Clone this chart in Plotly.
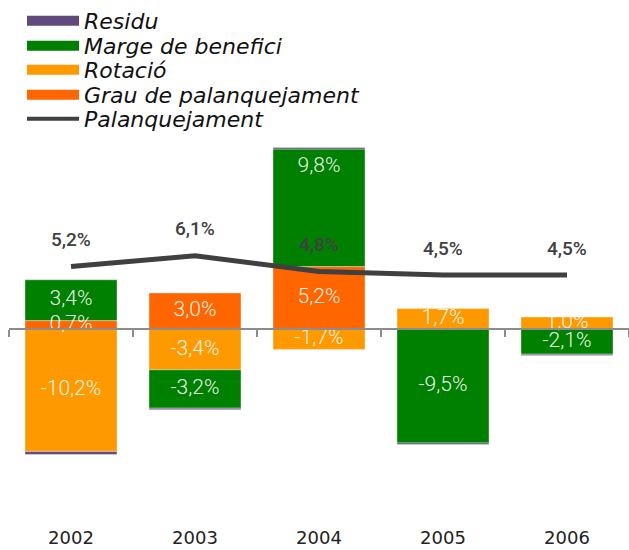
import plotly.graph_objects as go

years = ["2002", "2003", "2004", "2005", "2006"]
grau = [0.7, 3.0, 5.2, None, None]
rotacio = [-10.2, -3.4, -1.7, 1.7, 1.0]
marge = [3.4, -3.2, 9.8, -9.5, -2.1]
residu = [-0.25, -0.12, 0.12, -0.12, -0.1]
palanq = [5.2, 6.1, 4.8, 4.5, 4.5]

C_RES = "#604A7B"
C_MAR = "#008000"
C_ROT = "#FF9900"
C_GRAU = "#FF6600"
C_LINE = "#404040"

PX_T, PX_B = 140, 32
ymax, ymin = 15.75, -15.75
zero_pos = (0 - ymin) / (ymax - ymin)

def fmt(v):
    return f"{v:.1f}%".replace(".", ",")

fig = go.Figure()

stack = [("Grau de palanquejament", grau, C_GRAU), ("Rotació", rotacio, C_ROT),
         ("Marge de benefici", marge, C_MAR), ("Residu", residu, C_RES)]
for name, vals, color in stack:
    fig.add_trace(go.Bar(
        x=years, y=vals, name=name,
        marker=dict(color=color, line=dict(width=0.6, color="rgba(255,255,255,0.6)")),
        showlegend=False, hoverinfo="skip"))

fig.add_trace(go.Scatter(
    x=years, y=palanq, mode="lines", line=dict(color=C_LINE, width=5),
    showlegend=False, hoverinfo="skip"))

# bar labels inside each stacked segment (relative stacking);
# a segment that holds the line's label gets its own label near its top
lx, ly, lt = [], [], []
pos = [0.0] * len(years)
neg = [0.0] * len(years)
for name, vals, color in stack[:3]:
    for i, v in enumerate(vals):
        if v is None:
            continue
        if v >= 0:
            lo, hi = pos[i], pos[i] + v
            pos[i] += v
        else:
            lo, hi = neg[i] + v, neg[i]
            neg[i] += v
        line_label = palanq[i] + 2.3
        y = hi - 1.5 if lo < line_label < hi else (lo + hi) / 2
        lx.append(years[i]); ly.append(y); lt.append(fmt(v))
fig.add_trace(go.Scatter(x=lx, y=ly, text=lt, mode="text", textposition="middle center",
                         textfont=dict(family="Roboto", size=21, color="rgba(255,255,255,0.93)", weight=300),
                         showlegend=False, hoverinfo="skip", cliponaxis=False))

for i, v in enumerate(palanq):
    fig.add_annotation(x=i, y=v, xref="x", yref="y", text=fmt(v), showarrow=False,
                       yshift=27, font=dict(family="Roboto", size=19, color=C_LINE, weight=500))

# legend entries (one small legend per row)
leg_items = [("Residu", C_RES, 11), ("Marge de benefici", C_MAR, 11), ("Rotació", C_ROT, 11),
             ("Grau de palanquejament", C_GRAU, 11), ("Palanquejament", C_LINE, 4)]
row_y = [21, 46, 70, 95, 119]
legend_layout = {}
for k, (name, color, w) in enumerate(leg_items):
    lname = "legend" if k == 0 else f"legend{k+1}"
    fig.add_trace(go.Scatter(x=[None], y=[None], mode="lines", name=name, legend=lname,
                             line=dict(color=color, width=w)))
    legend_layout[lname] = dict(
        xref="container", yref="container", x=0.035, y=1 - row_y[k] / 550,
        xanchor="left", yanchor="middle",
        font=dict(family="DejaVu Sans", size=22, color="#111111", style="italic"),
        itemwidth=52, bgcolor="rgba(0,0,0,0)")

# axis line at zero with boundary ticks
fig.add_trace(go.Scatter(x=years, y=[0] * 5, xaxis="x2", mode="markers",
                         marker=dict(opacity=0), showlegend=False, hoverinfo="skip"))

fig.update_layout(
    width=629, height=550,
    margin=dict(l=9, r=0, t=PX_T, b=PX_B, autoexpand=False),
    barmode="relative", bargap=0.258,
    plot_bgcolor="white", paper_bgcolor="white",
    xaxis=dict(type="category", showline=False, ticks="", showgrid=False, range=[-0.5, 4.5],
               ticklabelstandoff=7,
               tickfont=dict(family="DejaVu Sans", size=18, color="#222222")),
    xaxis2=dict(type="category", overlaying="x", anchor="free", position=zero_pos, side="bottom",
                showline=True, linecolor="#8c8c8c", linewidth=2, ticks="outside", tickson="boundaries",
                ticklen=7, tickwidth=2, tickcolor="#8c8c8c", showticklabels=False,
                showgrid=False, range=[-0.5, 4.5], categoryarray=years, categoryorder="array"),
    yaxis=dict(range=[ymin, ymax], visible=False, showgrid=False, zeroline=False),
    **legend_layout,
)

fig.write_html("out.html", config={"displayModeBar": False},
               post_script="document.body.style.margin='0px';")
